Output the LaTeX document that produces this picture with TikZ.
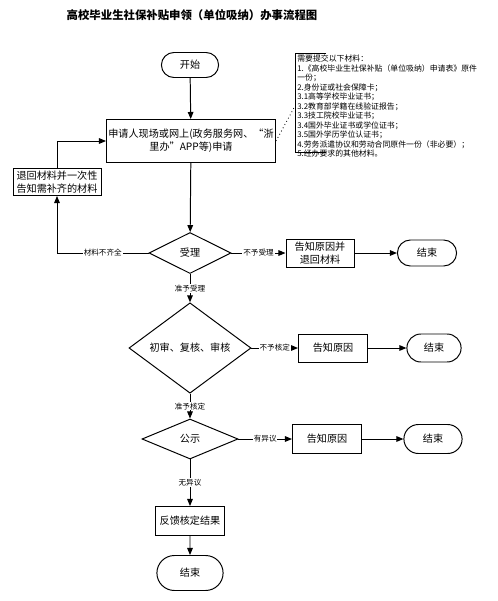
\documentclass[tikz,border=0pt]{standalone}
\usepackage{fontspec}
\setmainfont{Noto Sans CJK SC}
\usetikzlibrary{arrows.meta, positioning, calc, shapes.geometric, shapes.misc}

\tikzset{
  flow/.style={draw, line width=0.7pt, align=center, inner sep=1pt, font=\fontsize{7.2}{9.5}\selectfont},
  proc/.style 2 args={flow, rectangle, minimum width=#1*0.025cm, minimum height=#2*0.025cm},
  term/.style 2 args={flow, rounded rectangle, minimum width=#1*0.025cm, minimum height=#2*0.025cm},
  dec/.style 2 args={flow, diamond, inner sep=0pt, minimum width=#1*0.025cm, minimum height=#2*0.025cm},
  arr/.style={line width=0.7pt, -{Triangle[length=5pt,width=4pt]}},
  lbl/.style={fill=white, inner sep=0.6pt, font=\fontsize{5.4}{6}\selectfont},
}

\begin{document}
\begin{tikzpicture}[x=0.025cm, y=-0.025cm]
  \useasboundingbox (0,0) rectangle (498,601);
  \node[font=\fontsize{8.1}{10}\selectfont\bfseries] (title) at (192,15) {高校毕业生社保补贴申领（单位吸纳）办事流程图};

  % main column
  \node[term={60}{25}] (start) at (190,65) {开始};
  \node[proc={169}{43}] (apply) at (191,141) {申请人现场或网上(政务服务网、“浙\\里办”APP等)申请};
  \node[proc={88}{27}] (back) at (57,182) {退回材料并一次性\\告知需补齐的材料};
  \node[dec={82}{41}] (accept) at (190,253) {受理};
  \node[dec={122}{50}] (check) at (190,348) {初审、复核、审核};
  \node[dec={96}{40}] (notice) at (190,439) {公示};
  \node[proc={69}{29}] (result) at (190,521) {反馈核定结果};
  \node[term={69}{35}] (end4) at (190,573) {结束};

  % side branches
  \node[proc={68}{28}] (why1) at (320,253) {告知原因并\\退回材料};
  \node[term={62}{26}] (end1) at (427,253) {结束};
  \node[proc={69}{28}] (why2) at (333,348) {告知原因};
  \node[term={57}{28}] (end2) at (434,348) {结束};
  \node[proc={69}{29}] (why3) at (327,439) {告知原因};
  \node[term={61}{29}] (end3) at (433,439) {结束};

  % material list
  \coordinate (brk) at (295,106);
  \draw[line width=0.7pt] (326,53) -| (295,152) -- (326,152);
  \node[anchor=north west, inner sep=0pt, align=left, font=\fontsize{5.6}{6.75}\selectfont] (note) at (297,55) {需要提交以下材料：\\
    1.《高校毕业生社保补贴（单位吸纳）申请表》原件\\
    一份；\\
    2.身份证或社会保障卡；\\
    3.1高等学校毕业证书；\\
    3.2教育部学籍在线验证报告；\\
    3.3技工院校毕业证书；\\
    3.4国外毕业证书或学位证书；\\
    3.5国外学历学位认证书；\\
    4.劳务派遣协议和劳动合同原件一份（非必要）；\\
    5.经办要求的其他材料。};
  \draw[dotted, line width=0.6pt] (apply.east) -- (brk);

  % connectors
  \draw[arr] (start) -- (apply);
  \draw[arr] (apply) -- (accept);
  \draw[arr] (accept.west) -- node[lbl]{材料不齐全} (accept.west -| back.south) -- (back.south);
  \draw[arr] (back.north) |- (apply.west);
  \draw[arr] (accept) -- node[lbl]{不予受理} (why1);
  \draw[arr] (why1) -- (end1);
  \draw[arr] (accept) -- node[lbl]{准予受理} (check);
  \draw[arr] (check) -- node[lbl]{不予核定} (why2);
  \draw[arr] (why2) -- (end2);
  \draw[arr] (check) -- node[lbl]{准予核定} (notice);
  \draw[arr] (notice) -- node[lbl]{有异议} (why3);
  \draw[arr] (why3) -- (end3);
  \draw[arr] (notice) -- node[lbl]{无异议} (result);
  \draw[arr] (result) -- (end4);
\end{tikzpicture}
\end{document}
